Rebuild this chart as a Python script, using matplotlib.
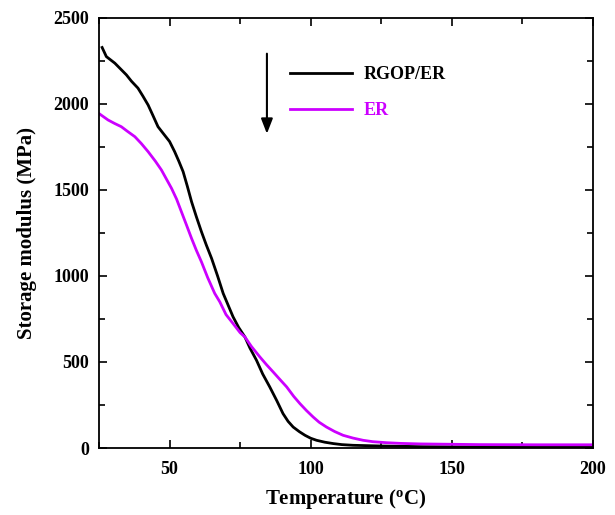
import matplotlib
matplotlib.use("Agg")
from matplotlib import pyplot as plt
from matplotlib.ticker import MultipleLocator

plt.rcParams['font.family'] = 'Liberation Serif'
plt.rcParams['font.weight'] = 'bold'
plt.rcParams['mathtext.fontset'] = 'custom'
plt.rcParams['mathtext.rm'] = 'Liberation Serif:bold'

# RGOP/ER curve
temp_rgop = [26.1, 27.6, 30.6, 34.7, 36.5, 38.8, 40.5, 42.4, 44.0, 45.9, 47.7, 50.0, 51.8,
             53.3, 54.8, 56.3, 57.8, 59.5, 61.3, 63.0, 64.9, 67.0, 69.0, 72.5, 74.5,
             76.7, 78.5, 80.8, 83.0, 85.5, 88.0, 90.2, 92.0, 93.8, 96.0, 98.0, 100.0,
             102.1, 105.0, 108.0, 111.0, 115.0, 124.5, 140.0, 160.0, 180.0, 200.0]
mod_rgop = [2326, 2273, 2235, 2167, 2130, 2090, 2045, 1992, 1935, 1866, 1828, 1780, 1721,
            1665, 1605, 1520, 1430, 1343, 1256, 1180, 1101, 1000, 898, 762, 700,
            645, 580, 510, 430, 355, 275, 200, 155, 122, 95, 74, 57,
            45, 34, 26, 20, 16, 12, 8, 6, 5, 5]

# ER curve
temp_er = [25.2, 28.2, 30.5, 32.9, 35.0, 37.7, 40.0, 42.4, 45.0, 47.1, 50.7, 52.5, 54.2,
           56.0, 57.8, 59.5, 61.3, 63.5, 66.0, 67.8, 70.0, 72.5, 75.0, 76.7, 79.0,
           82.0, 84.3, 86.7, 89.0, 91.5, 94.0, 96.2, 98.5, 100.9, 103.0, 105.6, 108.5,
           111.5, 115.0, 118.6, 122.0, 126.9, 132.0, 138.7, 160.0, 180.0, 200.0]
mod_er = [1940, 1905, 1885, 1866, 1840, 1808, 1768, 1721, 1665, 1615, 1508, 1445, 1372,
          1295, 1217, 1148, 1081, 990, 898, 849, 775, 723, 670, 645, 590,
          529, 485, 442, 400, 355, 300, 258, 218, 180, 150, 122, 96,
          74, 58, 45, 37, 31, 27, 24, 20, 19, 19]

# arrow drawn in data coords
arrow_x = 84.5
arrow_top = 2290
arrow_tip = 1825

fig = plt.figure(figsize=(6.15, 5.15), dpi=100)
ax = fig.add_axes([0.161, 0.130, 0.803, 0.836])

ax.plot(temp_rgop, mod_rgop, color="black", lw=2, label="RGOP/ER")
ax.plot(temp_er, mod_er, color="#cc00ff", lw=2, label="ER")

ax.annotate("", xy=(arrow_x, arrow_tip), xytext=(arrow_x, arrow_top),
            arrowprops=dict(arrowstyle="-|>,head_length=0.9,head_width=0.35",
                            color="black", lw=1.5, shrinkA=0, shrinkB=0))

ax.set_xlim(25, 200)
ax.set_ylim(0, 2500)
ax.xaxis.set_major_locator(MultipleLocator(50))
ax.xaxis.set_minor_locator(MultipleLocator(25))
ax.yaxis.set_major_locator(MultipleLocator(500))
ax.yaxis.set_minor_locator(MultipleLocator(250))
ax.tick_params(which="both", direction="in", top=True, right=True, width=1.2,
               labelsize=13)
ax.tick_params(axis="x", pad=9)
ax.tick_params(axis="y", pad=7)
ax.tick_params(which="major", length=6)
ax.tick_params(which="minor", length=4)
for s in ax.spines.values():
    s.set_linewidth(1.3)

ax.set_xlabel("Temperature ($\\mathregular{^{o}}$C)", fontsize=15, fontweight="bold", labelpad=7)
ax.set_ylabel("Storage modulus (MPa)", fontsize=15, fontweight="bold", labelpad=12)

leg = ax.legend(loc="upper left", bbox_to_anchor=(0.386, 0.887), frameon=False,
                fontsize=13, handlelength=3.43, handletextpad=0.67, labelspacing=1.06,
                borderpad=0, borderaxespad=0)
leg.get_texts()[0].set_color("black")
leg.get_texts()[1].set_color("#cc00ff")

plt.savefig("out.png", dpi=100)
